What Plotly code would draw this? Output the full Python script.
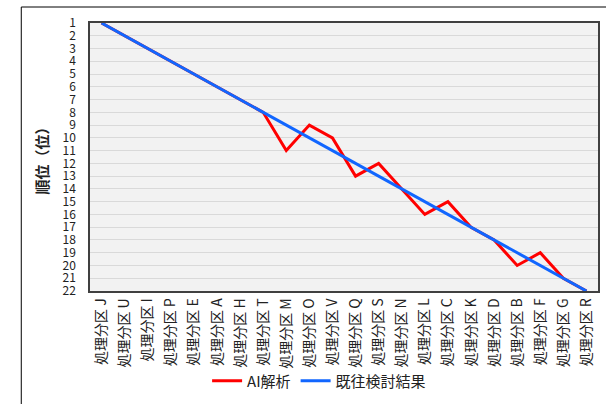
import plotly.graph_objects as go

# Treatment plots, in the order of the reference ranking
plots = ["J", "U", "I", "P", "E", "A", "H", "T", "M", "O", "V",
         "Q", "S", "N", "L", "C", "K", "D", "B", "F", "G", "R"]
categories = ["処理分区 " + p for p in plots]

# Rank given by the AI analysis
ai_rank = [1, 2, 3, 4, 5, 6, 7, 8, 11, 9, 10,
           13, 12, 14, 16, 15, 17, 18, 20, 19, 21, 22]
# Rank from the earlier study
past_rank = [1, 2, 3, 4, 5, 6, 7, 8, 9, 10, 11,
             12, 13, 14, 15, 16, 17, 18, 19, 20, 21, 22]
rank_ticks = list(range(1, 23))

FONT = "Noto Sans CJK JP"

fig = go.Figure()
fig.add_trace(go.Scatter(x=categories, y=ai_rank, mode="lines", name="AI解析",
                         line=dict(color="#ff0000", width=3)))
fig.add_trace(go.Scatter(x=categories, y=past_rank, mode="lines", name="既往検討結果",
                         line=dict(color="#1166ff", width=3)))

W, H = 606, 404
L, R, T, B = 90, 6, 23, 113
pw, ph = W - L - R, H - T - B

fig.update_layout(
    width=W, height=H,
    margin=dict(l=L, r=R, t=T, b=B),
    paper_bgcolor="white",
    plot_bgcolor="#f2f2f2",
    font=dict(family=FONT, color="#333333"),
    showlegend=True,
    legend=dict(orientation="h", x=(320 - L) / pw, xanchor="center",
                y=(T + ph - 381) / ph, yanchor="middle",
                font=dict(size=15, color="#222222"),
                bgcolor="rgba(0,0,0,0)", itemwidth=30),
    xaxis=dict(
        type="category", range=[-0.5, len(plots) - 0.5],
        tickangle=-90, tickfont=dict(size=14, color="#222222"),
        showgrid=False, showline=True, mirror=True,
        linecolor="#404040", linewidth=1.5, ticks="", zeroline=False,
    ),
    yaxis=dict(
        range=[22, 1], tickvals=rank_ticks,
        ticktext=[str(v) for v in rank_ticks],
        tickfont=dict(size=12, color="#222222"),
        ticklabelstandoff=10,
        showgrid=True, gridcolor="#d9d9d9", gridwidth=1,
        showline=True, mirror=True, linecolor="#404040", linewidth=1.5,
        ticks="", zeroline=False,
        title=dict(text="<b>順位（位）</b>", font=dict(size=15, color="#222222"),
                   standoff=10),
    ),
    shapes=[dict(type="rect", xref="paper", yref="paper",
                 x0=(21 - L) / pw, x1=1.5, y0=-1.0, y1=(T + ph - 7) / ph,
                 line=dict(color="#000000", width=1), fillcolor="rgba(0,0,0,0)",
                 layer="below")],
)

fig.write_html("out.html")
